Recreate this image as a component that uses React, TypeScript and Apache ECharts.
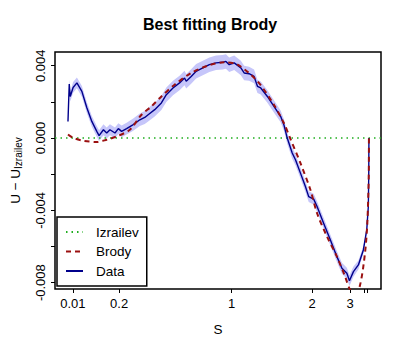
import React, { useEffect, useRef } from "react";
import * as echarts from "echarts";

// x axis is in the transformed (U) coordinate; tick labels show the corresponding S
const xTickU = [0.0194, 0.1725, 0.545, 0.8116, 0.9378, 0.984, 0.996];
const xTickLabels = ["0.01", "0.2", "1", "2", "3", "", ""];
const yTickValues = [-0.008, -0.006, -0.004, -0.002, 0, 0.002, 0.004];
const yLabelValues = [-0.008, -0.004, 0, 0.004];

// Data (noisy empirical curve)
const dataU = [
  0.003, 0.0072, 0.0105, 0.02, 0.0326, 0.049, 0.0655, 0.082, 0.0984, 0.106,
  0.1205, 0.1313, 0.142, 0.1587, 0.1698, 0.1807, 0.1972, 0.2192, 0.241, 0.2574,
  0.2686, 0.2903, 0.3124, 0.3288, 0.3509, 0.3726, 0.3891, 0.3947, 0.4111, 0.4276,
  0.4496, 0.4714, 0.4934, 0.5155, 0.5263, 0.5372, 0.5537, 0.5757, 0.5866, 0.603,
  0.6195, 0.6307, 0.6416, 0.6636, 0.6853, 0.7074, 0.7182, 0.7294, 0.7459, 0.7567,
  0.7732, 0.7896, 0.8005, 0.817, 0.8282, 0.8499, 0.872, 0.894, 0.9105, 0.9269,
  0.9355, 0.9487, 0.9651, 0.9816, 0.9928, 0.998, 0.9995, 1.0,
];
const dataDiff = [
  0.00092, 0.00299, 0.0023, 0.0028, 0.00305, 0.00258, 0.00168, 0.00092, 0.00037, 0.00013,
  0.00046, 0.00028, 0.00046, 0.00028, 0.00052, 0.00037, 0.00052, 0.00074, 0.00101, 0.00114,
  0.00129, 0.00157, 0.00194, 0.0024, 0.00277, 0.00305, 0.00332, 0.00314, 0.00341, 0.00369,
  0.00388, 0.00406, 0.00416, 0.00419, 0.00424, 0.00406, 0.00416, 0.00388, 0.0036, 0.00356,
  0.00341, 0.00286, 0.00277, 0.0023, 0.00175, 0.0012, 0.00074, 0.0, -0.00083, -0.0012,
  -0.00194, -0.00268, -0.00324, -0.00338, -0.00379, -0.00471, -0.00563, -0.00656, -0.0072, -0.00748,
  -0.00789, -0.00739, -0.00702, -0.00619, -0.00508, -0.00379, -0.00192, 0.0,
];
const dataHalf = [
  0.0002, 0.00025, 0.00028, 0.0003, 0.0003, 0.0003, 0.0003, 0.0003, 0.0003, 0.0003,
  0.0003, 0.0003, 0.0003, 0.0003, 0.0003, 0.00032, 0.00032, 0.00034, 0.00035, 0.00036,
  0.00037, 0.00038, 0.00039, 0.0004, 0.0004, 0.0004, 0.0004, 0.0004, 0.0004, 0.0004,
  0.0004, 0.0004, 0.0004, 0.0004, 0.0004, 0.0004, 0.0004, 0.0004, 0.0004, 0.00039,
  0.00038, 0.00037, 0.00036, 0.00035, 0.00034, 0.00033, 0.00032, 0.00032, 0.00031, 0.0003,
  0.0003, 0.0003, 0.0003, 0.0003, 0.0003, 0.0003, 0.0003, 0.0003, 0.0003, 0.0003,
  0.0003, 0.00028, 0.00025, 0.0002, 0.00015, 0.0001, 0.00005, 0.0,
];

// Best fitting Brody curve
const brodyU = [
  0.003, 0.0217, 0.0546, 0.0984, 0.1313, 0.1643, 0.208, 0.2465, 0.2794, 0.3124,
  0.3562, 0.4111, 0.4661, 0.5207, 0.5648, 0.6307, 0.6853, 0.7182, 0.7403, 0.7732,
  0.8061, 0.8282, 0.8611, 0.894, 0.9213, 0.9378, 0.955, 0.9707, 0.987, 0.9947,
  0.9995, 1.0,
];
const brodyDiff = [
  0.0002, 0.0, -0.00015, -0.00022, -0.00009, 0.00009, 0.00046, 0.00129, 0.00175, 0.0023,
  0.00295, 0.0036, 0.004, 0.00419, 0.00406, 0.00314, 0.00184, 0.00083, -0.00006, -0.00139,
  -0.00286, -0.00416, -0.00545, -0.00656, -0.00767, -0.0084, -0.0086, -0.00813, -0.00636, -0.00469,
  -0.00192, 0.0,
];

// Izrailev reference (zero line across the plot)
const izrailevU = [-0.04, 1.04];
const izrailevDiff = [0, 0];

const FONT = "'Liberation Sans', Arial, Helvetica, sans-serif";

export default function App() {
  const ref = useRef<HTMLDivElement>(null);
  useEffect(() => {
    if (!ref.current) return;
    const chart = echarts.init(ref.current, undefined, { renderer: "svg" });
    const bandData = dataU.map((u, i) => [u, dataDiff[i] - dataHalf[i], dataDiff[i] + dataHalf[i]]);
    chart.setOption({
      animation: false,
      backgroundColor: "#ffffff",
      textStyle: { fontFamily: FONT, color: "#000" },
      title: {
        text: "Best fitting Brody",
        left: 143,
        top: 16,
        padding: 0,
        textStyle: { fontFamily: FONT, fontSize: 16, fontWeight: "bold", color: "#000" },
      },
      grid: {
        left: 53,
        right: 28,
        top: 52,
        bottom: 68,
        show: true,
        borderColor: "#000",
        borderWidth: 1.5,
        backgroundColor: "transparent",
      },
      legend: {
        data: ["Izrailev", "Brody", "Data"],
        orient: "vertical",
        left: 57,
        top: 217,
        padding: [8, 8, 8, 8],
        itemWidth: 17,
        itemHeight: 14,
        itemGap: 5.5,
        borderColor: "#000",
        borderWidth: 1.5,
        backgroundColor: "#fff",
        itemStyle: { opacity: 0 },
        textStyle: { fontFamily: FONT, fontSize: 13.5, color: "#000", padding: [0, 0, 0, 8] },
      },
      xAxis: {
        type: "value",
        min: -0.04,
        max: 1.04,
        name: "S",
        nameLocation: "middle",
        nameGap: 33,
        nameTextStyle: { fontFamily: FONT, fontSize: 13.5, color: "#000" },
        axisLine: { show: false, onZero: false },
        splitLine: { show: false },
        axisTick: {
          show: true,
          length: 4,
          customValues: xTickU,
          lineStyle: { color: "#000", width: 1 },
        },
        axisLabel: {
          customValues: xTickU.filter((_, i) => xTickLabels[i] !== ""),
          margin: 8,
          fontFamily: FONT,
          fontSize: 13,
          color: "#000",
          formatter: (v: number) => {
            let best = 0;
            for (let i = 0; i < xTickU.length; i++) {
              if (Math.abs(xTickU[i] - v) < Math.abs(xTickU[best] - v)) best = i;
            }
            return xTickLabels[best];
          },
        },
      },
      yAxis: {
        type: "value",
        min: -0.00835,
        max: 0.00476,
        name: "U \u2212 U{sub|Izrailev}",
        nameLocation: "middle",
        nameRotate: 90,
        nameGap: 32,
        nameTextStyle: {
          fontFamily: FONT,
          fontSize: 13.5,
          color: "#000",
          rich: {
            sub: { fontFamily: FONT, fontSize: 10, color: "#000", verticalAlign: "bottom", padding: [6, 0, 0, 0] },
          },
        },
        axisLine: { show: false, onZero: false },
        splitLine: { show: false },
        axisTick: {
          show: true,
          length: 4,
          customValues: yTickValues,
          lineStyle: { color: "#000", width: 1 },
        },
        axisLabel: {
          customValues: yLabelValues,
          rotate: 90,
          margin: 8,
          fontFamily: FONT,
          fontSize: 13,
          color: "#000",
          formatter: (v: number) => v.toFixed(3),
        },
      },
      series: [
        {
          name: "band",
          type: "custom",
          data: bandData,
          silent: true,
          z: 1,
          encode: { x: 0, y: [1, 2] },
          renderItem: (params: any, api: any) => {
            if (params.dataIndex !== 0) return null;
            const upper = bandData.map((d) => api.coord([d[0], d[2]]));
            const lower = bandData.map((d) => api.coord([d[0], d[1]])).reverse();
            return {
              type: "polygon",
              shape: { points: upper.concat(lower) },
              style: { fill: "#c6c6fa", stroke: "none" },
            };
          },
        },
        {
          name: "Izrailev",
          type: "line",
          data: izrailevU.map((u, i) => [u, izrailevDiff[i]]),
          symbol: "none",
          color: "#1fae1f",
          lineStyle: { color: "#1fae1f", width: 1.6, type: [1.5, 4] },
          z: 2,
        },
        {
          name: "Data",
          type: "line",
          data: dataU.map((u, i) => [u, dataDiff[i]]),
          symbol: "none",
          color: "#00008b",
          lineStyle: { color: "#00008b", width: 1.4 },
          z: 3,
        },
        {
          name: "Brody",
          type: "line",
          data: brodyU.map((u, i) => [u, brodyDiff[i]]),
          symbol: "none",
          smooth: 0.3,
          color: "#9b1010",
          lineStyle: { color: "#9b1010", width: 2, type: [5, 4] },
          z: 4,
        },
      ],
    });
    return () => chart.dispose();
  }, []);
  return <div ref={ref} style={{ width: 409, height: 357, position: "absolute", left: 0, top: 0 }} />;
}
